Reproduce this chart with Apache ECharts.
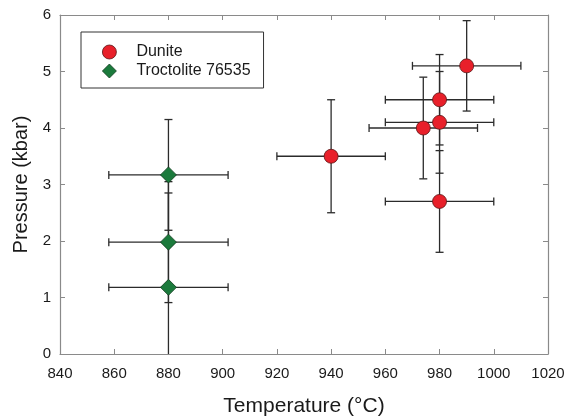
<!DOCTYPE html>
<html>
<head>
<meta charset="utf-8">
<script src="https://cdn.jsdelivr.net/npm/echarts@6/dist/echarts.min.js"></script>
<style>
  html, body { margin: 0; padding: 0; background: #ffffff; }
  #chart { width: 567px; height: 417px; }
</style>
</head>
<body>
<div id="chart"></div>
<script>
// Dunite samples
const duniteTemp = [940, 990, 980, 980, 974, 980];
const dunitePress = [3.5, 5.1, 4.5, 4.1, 4.0, 2.7];
const duniteTempErr = [20, 20, 20, 20, 20, 20];
const dunitePressErr = [1.0, 0.8, 0.8, 0.9, 0.9, 0.9];

// Troctolite 76535 samples
const troctTemp = [880, 880, 880];
const troctPress = [3.17, 1.98, 1.18];
const troctTempErr = [22, 22, 22];
const troctPressErr = [0.98, 1.07, 1.67];

const X_MIN = 840, X_MAX = 1020, X_STEP = 20;
const Y_MIN = 0, Y_MAX = 6, Y_STEP = 1;

const axisColor = "#8a8a8a";
const errColor = "#2b2b2b";
const labelFont = "'Liberation Sans', Arial, sans-serif";

function errRows(xs, ys, xe, ye) {
  return xs.map((x, i) => [x, ys[i], xe[i], ye[i]]);
}

function renderErrorBars(params, api) {
  const x = api.value(0);
  const y = api.value(1);
  const dx = api.value(2);
  const dy = api.value(3);
  const cap = 4;
  const children = [];
  const style = { stroke: errColor, lineWidth: 1.3 };

  const lo = api.coord([x - dx, y]);
  const hi = api.coord([x + dx, y]);
  children.push({ type: "line", shape: { x1: lo[0], y1: lo[1], x2: hi[0], y2: hi[1] }, style });
  children.push({ type: "line", shape: { x1: lo[0], y1: lo[1] - cap, x2: lo[0], y2: lo[1] + cap }, style });
  children.push({ type: "line", shape: { x1: hi[0], y1: hi[1] - cap, x2: hi[0], y2: hi[1] + cap }, style });

  // clip the vertical bar to the plot range; no cap where it is cut off
  const yLow = Math.max(y - dy, Y_MIN);
  const yHigh = Math.min(y + dy, Y_MAX);
  const bot = api.coord([x, yLow]);
  const top = api.coord([x, yHigh]);
  children.push({ type: "line", shape: { x1: bot[0], y1: bot[1], x2: top[0], y2: top[1] }, style });
  if (y - dy >= Y_MIN) {
    children.push({ type: "line", shape: { x1: bot[0] - cap, y1: bot[1], x2: bot[0] + cap, y2: bot[1] }, style });
  }
  if (y + dy <= Y_MAX) {
    children.push({ type: "line", shape: { x1: top[0] - cap, y1: top[1], x2: top[0] + cap, y2: top[1] }, style });
  }
  return { type: "group", children };
}

const chart = echarts.init(document.getElementById("chart"));

const baseX = {
  type: "value",
  min: X_MIN,
  max: X_MAX,
  interval: X_STEP,
  splitLine: { show: false },
  axisLine: { show: true, onZero: false, lineStyle: { color: axisColor, width: 1.2 } },
  axisTick: { show: true, inside: true, length: 5, lineStyle: { color: axisColor } }
};
const baseY = {
  type: "value",
  min: Y_MIN,
  max: Y_MAX,
  interval: Y_STEP,
  splitLine: { show: false },
  axisLine: { show: true, onZero: false, lineStyle: { color: axisColor, width: 1.2 } },
  axisTick: { show: true, inside: true, length: 5, lineStyle: { color: axisColor } }
};

chart.setOption({
  animation: false,
  backgroundColor: "#ffffff",
  grid: { left: 60, right: 19, top: 15, bottom: 63, containLabel: false, outerBoundsMode: "none" },
  legend: {
    orient: "vertical",
    left: 81,
    top: 32,
    padding: [12, 13, 9, 21],
    itemWidth: 14,
    itemHeight: 14,
    itemGap: 3,
    borderColor: "#333333",
    borderWidth: 1,
    itemStyle: { borderWidth: 0.8 },
    data: ["Dunite", "Troctolite 76535"],
    textStyle: { fontFamily: labelFont, fontSize: 16, color: "#1a1a1a", padding: [0, 0, 0, 15] }
  },
  xAxis: [
    Object.assign({}, baseX, {
      position: "bottom",
      name: "Temperature (°C)",
      nameLocation: "middle",
      nameGap: 42,
      nameTextStyle: { fontFamily: labelFont, fontSize: 21, color: "#1a1a1a" },
      axisLabel: { fontFamily: labelFont, fontSize: 15, color: "#1a1a1a", margin: 12, formatter: v => String(v) }
    }),
    Object.assign({}, baseX, { position: "top", axisLabel: { show: false } })
  ],
  yAxis: [
    Object.assign({}, baseY, {
      position: "left",
      name: "Pressure (kbar)",
      nameLocation: "middle",
      nameGap: 29,
      nameTextStyle: { fontFamily: labelFont, fontSize: 20, color: "#1a1a1a" },
      axisLabel: { fontFamily: labelFont, fontSize: 15, color: "#1a1a1a", margin: 9 }
    }),
    Object.assign({}, baseY, { position: "right", axisLabel: { show: false } })
  ],
  series: [
    {
      name: "Dunite errors",
      type: "custom",
      renderItem: renderErrorBars,
      data: errRows(duniteTemp, dunitePress, duniteTempErr, dunitePressErr),
      z: 2,
      silent: true
    },
    {
      name: "Troctolite errors",
      type: "custom",
      renderItem: renderErrorBars,
      data: errRows(troctTemp, troctPress, troctTempErr, troctPressErr),
      z: 2,
      silent: true
    },
    {
      name: "Dunite",
      type: "scatter",
      symbol: "circle",
      symbolSize: 14,
      z: 5,
      itemStyle: { color: "#e8202a", borderColor: "#5a1515", borderWidth: 0.8, opacity: 1 },
      data: duniteTemp.map((t, i) => [t, dunitePress[i]])
    },
    {
      name: "Troctolite 76535",
      type: "scatter",
      symbol: "diamond",
      symbolSize: 16,
      z: 5,
      itemStyle: { color: "#1b7a3c", borderColor: "#0f3b1d", borderWidth: 0.8, opacity: 1 },
      data: troctTemp.map((t, i) => [t, troctPress[i]])
    }
  ]
});
</script>
</body>
</html>
